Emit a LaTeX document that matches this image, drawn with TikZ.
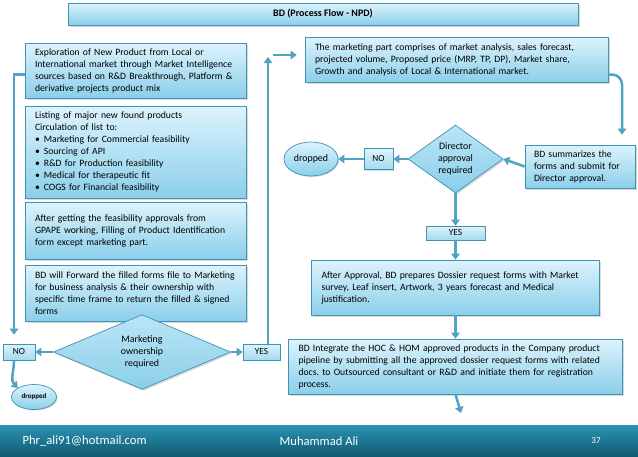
\documentclass[tikz,border=0pt]{standalone}
\usepackage{fontspec}
\setmainfont{Carlito}
\usetikzlibrary{shapes,arrows.meta,shadows}
\definecolor{boxtop}{HTML}{DDF3FC}
\definecolor{boxbot}{HTML}{8ACFEA}
\definecolor{boxline}{HTML}{3F93B5}
\definecolor{flowc}{HTML}{4FA3C4}
\definecolor{foottop}{HTML}{2C93B3}
\definecolor{footbot}{HTML}{0E5A72}
\tikzstyle{block} = [draw=boxline, rectangle, line width=0.7pt, top color=boxtop, bottom color=boxbot, drop shadow={shadow xshift=1.5pt, shadow yshift=-1.5pt, opacity=0.3}, font=\fontsize{9.7}{12}\selectfont, align=left, inner xsep=10pt, inner ysep=2pt]
\tikzstyle{decision} = [draw=boxline, diamond, line width=0.7pt, top color=boxtop!60!boxbot, bottom color=boxbot, drop shadow={shadow xshift=1.5pt, shadow yshift=-1.5pt, opacity=0.3}, font=\fontsize{9.9}{12}\selectfont, align=center, inner sep=0pt]
\tikzstyle{tag} = [draw=boxline, rectangle, line width=0.7pt, top color=boxtop, bottom color=boxbot!70!boxtop, drop shadow={shadow xshift=1pt, shadow yshift=-1pt, opacity=0.3}, font=\fontsize{9.3}{11}\selectfont, inner sep=0pt]
\tikzstyle{ending} = [draw=boxline, ellipse, line width=0.7pt, top color=boxtop, bottom color=boxbot, drop shadow={shadow xshift=1pt, shadow yshift=-1pt, opacity=0.3}, inner sep=0pt]
\tikzstyle{flow} = [draw=flowc, line width=2.5pt, -{Triangle[width=8.5pt,length=6pt]}]
\frenchspacing

\begin{document}
\begin{tikzpicture}[x=1pt, y=-1pt]
    \useasboundingbox (0,0) rectangle (638,456);
    % footer band
    \shade[top color=foottop, bottom color=footbot] (0,425) rectangle (638,456);
    \node [white, font=\fontsize{12.6}{14}\selectfont, anchor=west] (mail) at (19,441) {Phr\_ali91@hotmail.com};
    \node [white, font=\fontsize{12.6}{14}\selectfont] (name) at (319,441) {Muhammad Ali};
    \node [white, font=\fontsize{9}{11}\selectfont] (page) at (596,441) {37};

    \node [block, align=center, font=\fontsize{10}{12}\bfseries, minimum width=510pt, minimum height=22pt] (title) at (323,14) {BD (Process Flow - NPD)};

    % left column
    \node [block, text width=201pt, minimum height=55pt] (explore) at (135.5,70.5) {Exploration of New Product from Local or\\International market through Market Intelligence\\sources based on R\&D Breakthrough, Platform \&\\derivative projects product mix};
    \node [block, text width=201pt, minimum height=92pt, below of=explore, node distance=81.5pt] (listing) {Listing of major new found products\\Circulation of list to:\\\textbullet\hspace{4pt}Marketing for Commercial feasibility\\\textbullet\hspace{4pt}Sourcing of API\\\textbullet\hspace{4pt}R\&D for Production feasibility\\\textbullet\hspace{4pt}Medical for therapeutic fit\\\textbullet\hspace{4pt}COGS for Financial feasibility};
    \node [block, text width=201pt, minimum height=57pt, below of=listing, node distance=78.5pt] (filling) {After getting the feasibility approvals from\\GPAPE working, Filling of Product Identification\\form except marketing part.};
    \node [block, text width=201pt, minimum height=56pt, below of=filling, node distance=62.5pt] (forward) {BD will Forward the filled forms file to Marketing\\for business analysis \& their ownership with\\specific time frame to return the filled \& signed\\forms};
    \node [decision, minimum width=177pt, minimum height=52pt] (mship) at (142,352) {Marketing\\ownership\\required};
    \node [tag, minimum width=32pt, minimum height=16pt, left of=mship, node distance=123pt] (no1) {NO};
    \node [tag, minimum width=37pt, minimum height=16pt, right of=mship, node distance=119.5pt] (yes1) {YES};
    \node [ending, font=\fontsize{7}{8}\bfseries, minimum width=45pt, minimum height=25pt] (drop1) at (34,397) {dropped};

    % right column
    \node [block, text width=283pt, minimum height=45pt] (mkt) at (456.5,59.5) {The marketing part comprises of market analysis, sales forecast,\\projected volume, Proposed price (MRP, TP, DP), Market share,\\Growth and analysis of Local \& International market.};
    \node [block, text width=92pt, inner xsep=9pt, minimum height=43pt] (summ) at (580,166.5) {BD summarizes the\\forms and submit for\\Director approval.};
    \node [decision, minimum width=95pt, minimum height=68pt] (dir) at (455.5,159) {Director\\approval\\required};
    \node [tag, minimum width=29pt, minimum height=21pt, left of=dir, node distance=77pt] (no2) {NO};
    \node [ending, font=\fontsize{9.9}{11}\selectfont, minimum width=54pt, minimum height=34pt, left of=no2, node distance=67.5pt] (drop2) {dropped};
    \node [tag, minimum width=59pt, minimum height=14pt, below of=dir, node distance=74pt] (yes2) {YES};
    \node [block, text width=268pt, minimum height=55pt, below of=yes2, node distance=54.5pt] (dossier) {After Approval, BD prepares Dossier request forms with Market\\survey, Leaf insert, Artwork, 3 years forecast and Medical\\justification.};
    \node [block, text width=314pt, minimum height=55pt, below of=dossier, node distance=79pt] (pipeline) {BD Integrate the HOC \& HOM approved products in the Company product\\pipeline by submitting all the approved dossier request forms with related\\docs. to Outsourced consultant or R\&D and initiate them for registration\\process.};

    \coordinate (turn) at (268,57);
    \coordinate (last) at (461,413);

    \draw [flow] ([yshift=-4pt]explore.west) -| ([xshift=-5pt,yshift=9pt]no1.north);
    \draw [flow] ([xshift=-5pt]no1.south) to[out=-90,in=135] (drop1.north west);
    \draw [flow] (mship.west) -- (no1.east);
    \draw [flow] (mship.east) -- (yes1.west);
    \draw [flow] ([xshift=6.5pt]yes1.north) -- (turn);
    \draw [flow] ([xshift=5pt,yshift=2pt]turn) -- ([xshift=-8pt,yshift=4.5pt]mkt.west);
    \draw [flow, rounded corners=10pt] ([yshift=-15pt]mkt.east) -| ([xshift=42pt,yshift=10pt]summ.north);
    \draw [flow] (summ.west) -- (dir.east);
    \draw [flow] (dir.west) -- (no2.east);
    \draw [flow] (no2.west) -- (drop2.east);
    \draw [flow] (dir.south) -- (yes2.north);
    \draw [flow] (yes2.south) -- (dossier.north);
    \draw [flow] (dossier.south) -- (pipeline.north);
    \draw [flow] (pipeline.south) -- (last);
\end{tikzpicture}
\end{document}
